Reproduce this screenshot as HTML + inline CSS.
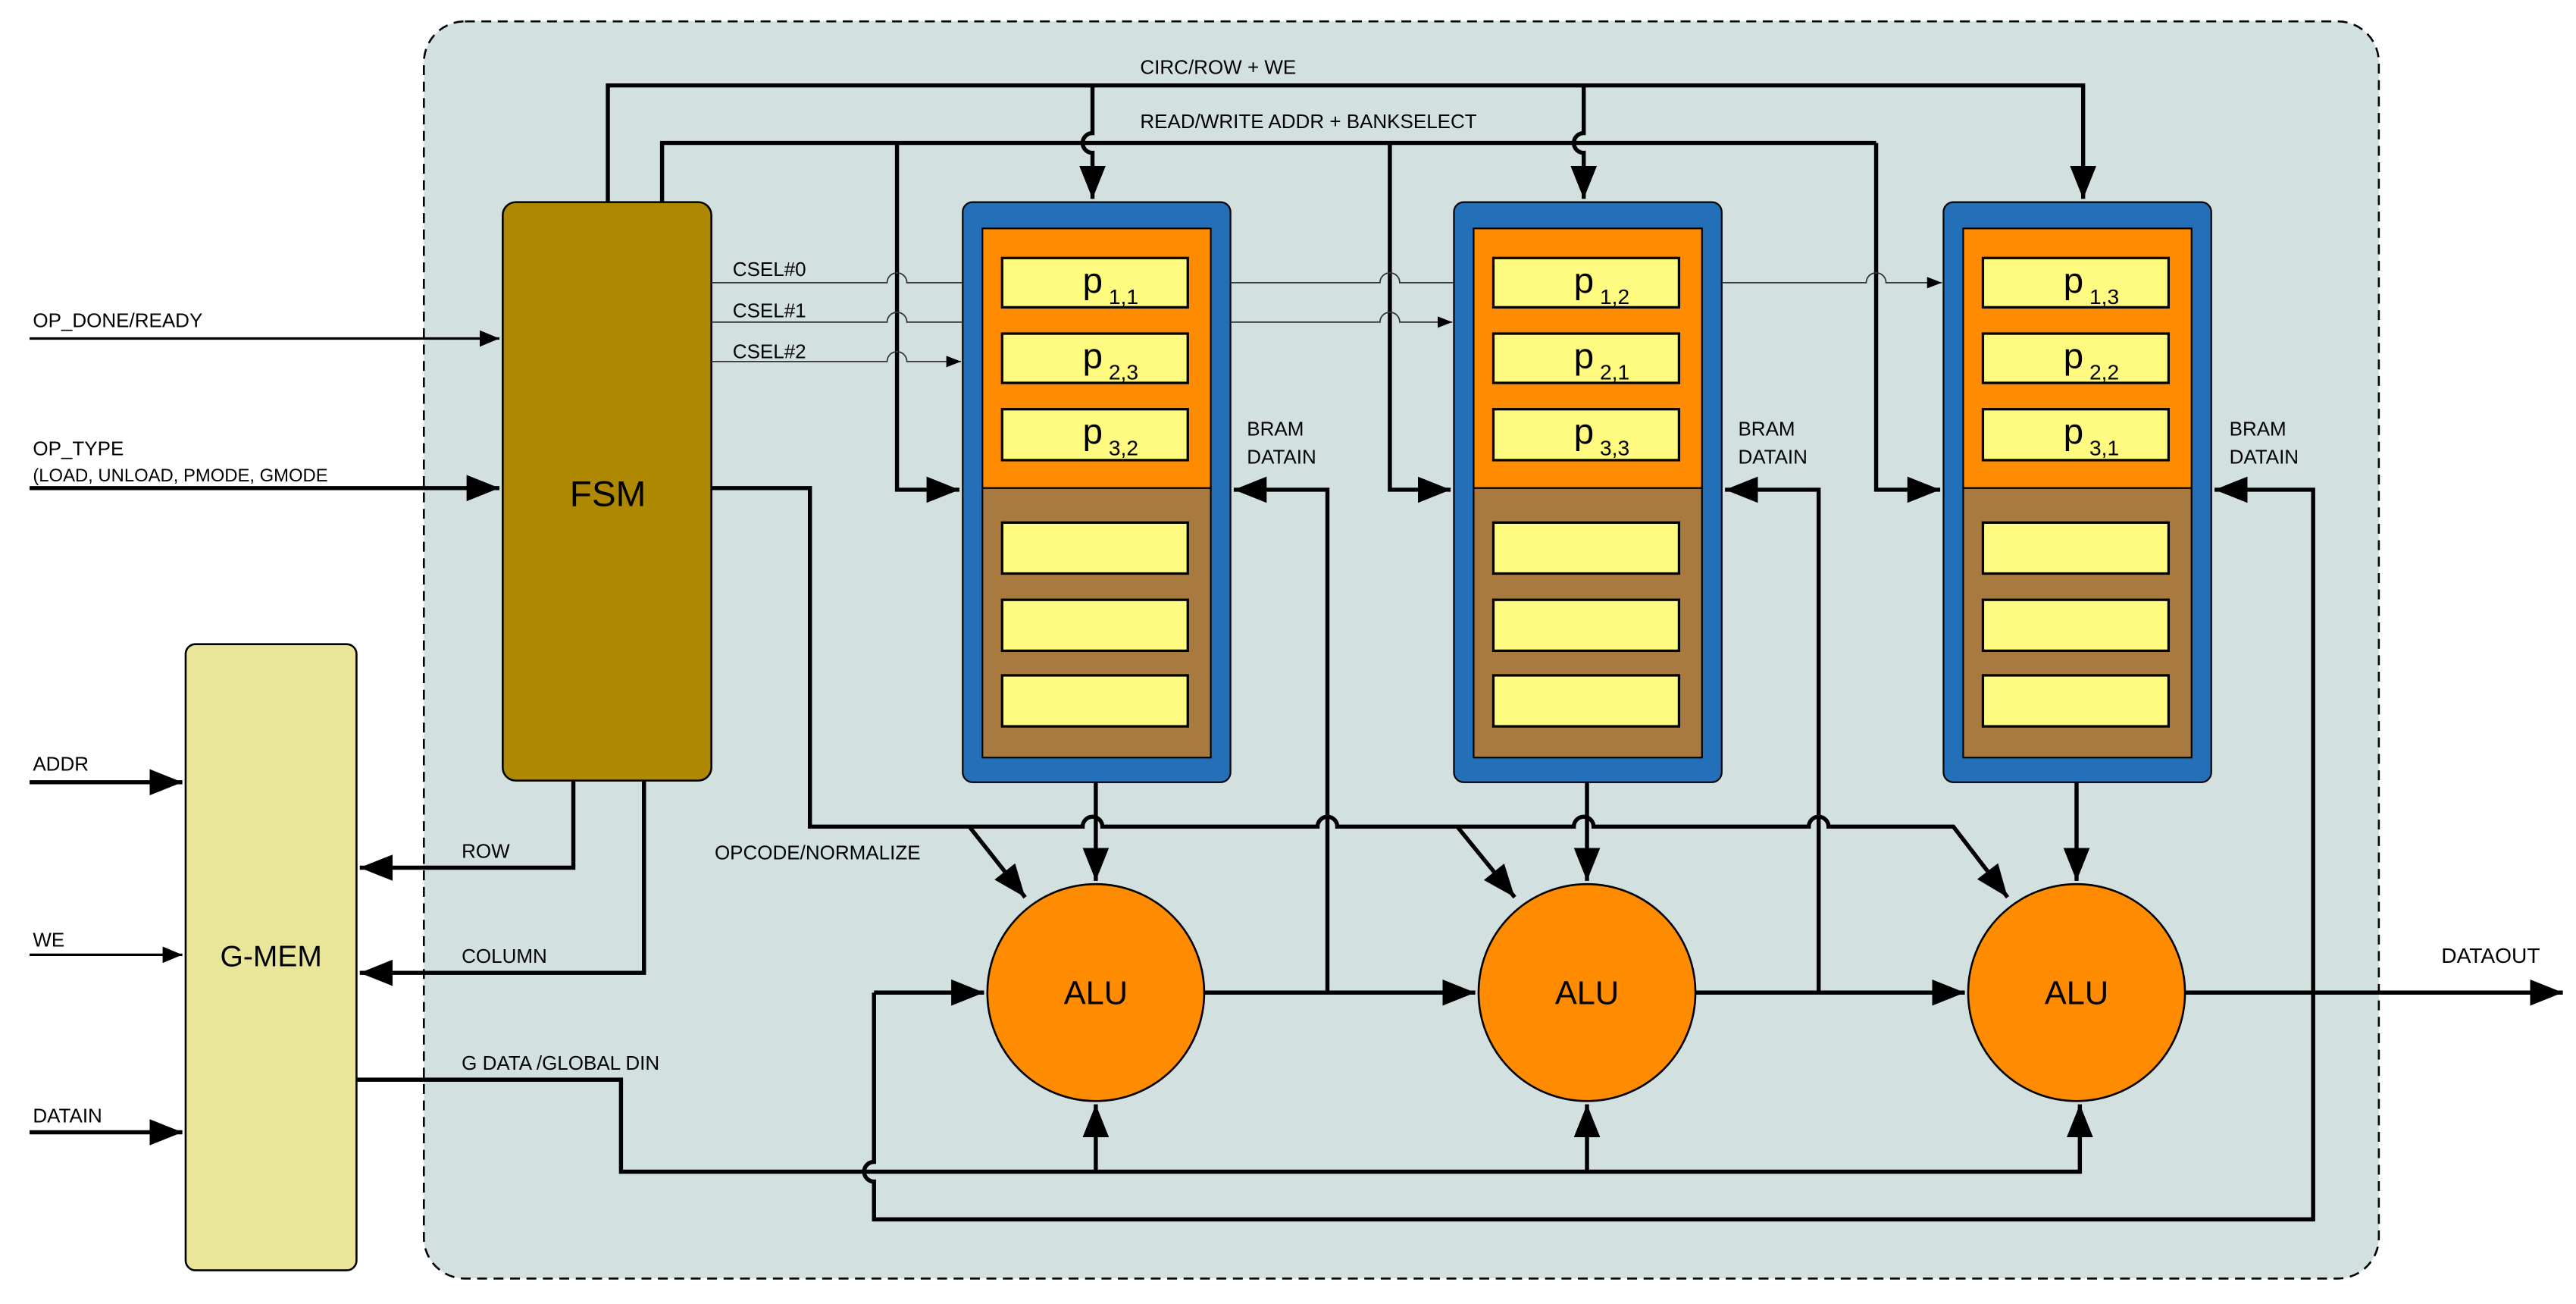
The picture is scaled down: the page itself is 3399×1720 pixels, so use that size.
<!DOCTYPE html>
<html><head><meta charset="utf-8"><style>
html,body{margin:0;padding:0;background:#fff}
svg{display:block}
text{font-family:"Liberation Sans",sans-serif;fill:#000}
</style></head><body>
<svg width="3399" height="1720" viewBox="0 0 1568 793.5" preserveAspectRatio="none" xmlns="http://www.w3.org/2000/svg">
<defs>
<marker id="a" markerUnits="userSpaceOnUse" markerWidth="20" markerHeight="16" refX="20" refY="8" orient="auto"><path d="M0,0 L20,8 L0,16 z" fill="#000"/></marker>
<marker id="s" markerUnits="userSpaceOnUse" markerWidth="12" markerHeight="10" refX="12" refY="5" orient="auto"><path d="M0,0 L12,5 L0,10 z" fill="#000"/></marker>
<marker id="t" markerUnits="userSpaceOnUse" markerWidth="9" markerHeight="7" refX="9" refY="3.5" orient="auto"><path d="M0,0 L9,3.5 L0,7 z" fill="#000"/></marker>
</defs>
<rect x="258" y="13" width="1190" height="765" rx="25" fill="#d3e0e0" stroke="#000" stroke-width="1.2" stroke-dasharray="6,4"/>

<rect x="306" y="123" width="127" height="352" rx="8" fill="#ad8800" stroke="#000" stroke-width="1.2"/>
<text x="370" y="308" font-size="22" text-anchor="middle">FSM</text>
<rect x="113" y="392" width="104" height="381" rx="6" fill="#e9e69a" stroke="#000" stroke-width="1.2"/>
<text x="165" y="588" font-size="18" text-anchor="middle">G-MEM</text>

<g id="b1">
<rect x="586" y="123" width="163" height="353" rx="6" fill="#236fb8" stroke="#000" stroke-width="1"/>
<rect x="598" y="139" width="139" height="158" fill="#ff8c00" stroke="#000" stroke-width="1"/>
<rect x="598" y="297" width="139" height="164" fill="#a97a40" stroke="#000" stroke-width="1"/>
<g fill="#fffa80" stroke="#000" stroke-width="1.5">
<rect x="610" y="157" width="113" height="30"/><rect x="610" y="203" width="113" height="30"/><rect x="610" y="249" width="113" height="31"/>
<rect x="610" y="318" width="113" height="31"/><rect x="610" y="365" width="113" height="31"/><rect x="610" y="411" width="113" height="31"/>
</g></g>
<use href="#b1" x="299"/>
<use href="#b1" x="597"/>
<g font-size="22">
<text x="659" y="178">p<tspan font-size="13" dy="7"> 1,1</tspan></text>
<text x="659" y="224">p<tspan font-size="13" dy="7"> 2,3</tspan></text>
<text x="659" y="270">p<tspan font-size="13" dy="7"> 3,2</tspan></text>
<text x="958" y="178">p<tspan font-size="13" dy="7"> 1,2</tspan></text>
<text x="958" y="224">p<tspan font-size="13" dy="7"> 2,1</tspan></text>
<text x="958" y="270">p<tspan font-size="13" dy="7"> 3,3</tspan></text>
<text x="1256" y="178">p<tspan font-size="13" dy="7"> 1,3</tspan></text>
<text x="1256" y="224">p<tspan font-size="13" dy="7"> 2,2</tspan></text>
<text x="1256" y="270">p<tspan font-size="13" dy="7"> 3,1</tspan></text>
</g>

<g fill="#ff8c00" stroke="#000" stroke-width="1.2">
<circle cx="667" cy="604" r="66"/><circle cx="966" cy="604" r="66"/><circle cx="1264" cy="604" r="66"/>
</g>
<g font-size="20" text-anchor="middle">
<text x="667" y="611">ALU</text><text x="966" y="611">ALU</text><text x="1264" y="611">ALU</text>
</g>

<g fill="none" stroke="#000" stroke-width="2.5">
<path d="M370,123 V52 H1268 V121" marker-end="url(#a)"/>
<path d="M665,52 V81 a6,6 0 0 0 0,12 V121" marker-end="url(#a)"/>
<path d="M964,52 V81 a6,6 0 0 0 0,12 V121" marker-end="url(#a)"/>
<path d="M403,123 V87 H1142"/>
<path d="M546,87 V298 H584" marker-end="url(#a)"/>
<path d="M846,87 V298 H883" marker-end="url(#a)"/>
<path d="M1142,87 V298 H1181" marker-end="url(#a)"/>
<path d="M433,297 H493 V503 H659 a6,6 0 0 1 12,0 H802 a6,6 0 0 1 12,0 H958 a6,6 0 0 1 12,0 H1101 a6,6 0 0 1 12,0 H1189 L1222,546" marker-end="url(#a)"/>
<path d="M590,503 L624,546" marker-end="url(#a)"/>
<path d="M887,503 L922,546" marker-end="url(#a)"/>
<path d="M667,476 V536" marker-end="url(#a)"/>
<path d="M966,476 V536" marker-end="url(#a)"/>
<path d="M1264,476 V536" marker-end="url(#a)"/>
<path d="M733,604 H898" marker-end="url(#a)"/>
<path d="M1032,604 H1196" marker-end="url(#a)"/>
<path d="M1330,604 H1560" marker-end="url(#a)"/>
<path d="M808,604 V298 H751" marker-end="url(#a)"/>
<path d="M1107,604 V298 H1050" marker-end="url(#a)"/>
<path d="M532,604 H599" marker-end="url(#a)"/>
<path d="M532,604 V707 a6,6 0 0 0 0,12 V742 H1408 V298 H1348" marker-end="url(#a)"/>
<path d="M217,657 H378 V713 H1266 V672" marker-end="url(#a)"/>
<path d="M667,713 V672" marker-end="url(#a)"/>
<path d="M966,713 V672" marker-end="url(#a)"/>
<path d="M349,475 V528 H219" marker-end="url(#a)"/>
<path d="M392,475 V592 H219" marker-end="url(#a)"/>
<path d="M18,297 H304" marker-end="url(#a)"/>
<path d="M18,476 H111" marker-end="url(#a)"/>
<path d="M18,689 H111" marker-end="url(#a)"/>
</g>
<g fill="none" stroke="#000" stroke-width="1.5">
<path d="M18,206 H304" marker-end="url(#s)"/>
<path d="M18,581 H111" marker-end="url(#s)"/>
</g>
<g fill="none" stroke="#333" stroke-width="0.8">
<path d="M433,172 H540 a6,6 0 0 1 12,0 H586"/>
<path d="M749,172 H840 a6,6 0 0 1 12,0 H885"/>
<path d="M1048,172 H1136 a6,6 0 0 1 12,0 H1182" marker-end="url(#t)"/>
<path d="M433,196 H540 a6,6 0 0 1 12,0 H586"/>
<path d="M749,196 H840 a6,6 0 0 1 12,0 H884" marker-end="url(#t)"/>
<path d="M433,220 H540 a6,6 0 0 1 12,0 H585" marker-end="url(#t)"/>
</g>

<g font-size="12">
<text x="694" y="45">CIRC/ROW + WE</text>
<text x="694" y="78">READ/WRITE ADDR + BANKSELECT</text>
<text x="446" y="168">CSEL#0</text>
<text x="446" y="193">CSEL#1</text>
<text x="446" y="218">CSEL#2</text>
<text x="20" y="199">OP_DONE/READY</text>
<text x="20" y="277">OP_TYPE</text>
<text x="20" y="293" font-size="11">(LOAD, UNLOAD, PMODE, GMODE</text>
<text x="20" y="469">ADDR</text>
<text x="20" y="576">WE</text>
<text x="20" y="683">DATAIN</text>
<text x="281" y="522">ROW</text>
<text x="281" y="586">COLUMN</text>
<text x="281" y="651">G DATA /GLOBAL DIN</text>
<text x="435" y="523">OPCODE/NORMALIZE</text>
<text x="759" y="265">BRAM</text><text x="759" y="282">DATAIN</text>
<text x="1058" y="265">BRAM</text><text x="1058" y="282">DATAIN</text>
<text x="1357" y="265">BRAM</text><text x="1357" y="282">DATAIN</text>
<text x="1486" y="586" font-size="13">DATAOUT</text>
</g>
</svg>
</body></html>
